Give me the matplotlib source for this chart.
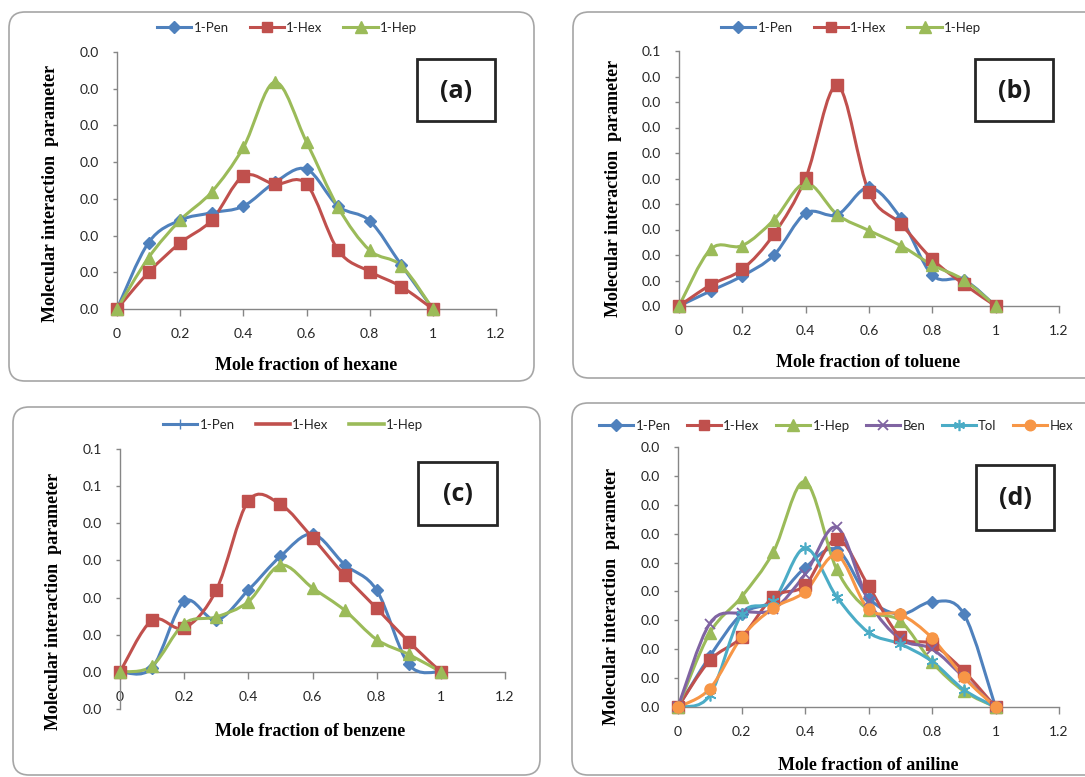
import numpy as np
import matplotlib
matplotlib.use('Agg')
import matplotlib.pyplot as plt
from matplotlib.path import Path
from matplotlib.patches import PathPatch, FancyBboxPatch, Rectangle
from matplotlib.lines import Line2D

W, H = 1085, 777

# ---------------- data (y values in axis tick steps) ----------------
x_frac = [0, 0.1, 0.2, 0.3, 0.4, 0.5, 0.6, 0.7, 0.8, 0.9, 1.0]
x_ticks = [0, 0.2, 0.4, 0.6, 0.8, 1.0, 1.2]
x_ticklabels = ['0', '0.2', '0.4', '0.6', '0.8', '1', '1.2']

# (a) hexane
a_pen = [0, 1.81, 2.42, 2.62, 2.80, 3.45, 3.81, 2.80, 2.40, 1.20, 0]
a_hex = [0, 1.00, 1.80, 2.42, 3.62, 3.40, 3.40, 1.60, 1.02, 0.61, 0]
a_hep = [0, 1.40, 2.42, 3.19, 4.40, 6.18, 4.55, 2.77, 1.60, 1.18, 0]
a_yticks = [0, 1, 2, 3, 4, 5, 6, 7]
a_yticklabels = ['0.0', '0.0', '0.0', '0.0', '0.0', '0.0', '0.0', '0.0']

# (b) toluene
b_pen = [0, 0.59, 1.18, 2.00, 3.64, 3.58, 4.65, 3.45, 1.21, 1.02, 0]
b_hex = [0, 0.83, 1.44, 2.82, 5.02, 8.65, 4.46, 3.22, 1.83, 0.85, 0]
b_hep = [0, 2.23, 2.37, 3.38, 4.82, 3.58, 2.96, 2.37, 1.61, 1.02, 0]
b_yticks = [0, 1, 2, 3, 4, 5, 6, 7, 8, 9, 10]
b_yticklabels = ['0.0', '0.0', '0.0', '0.0', '0.0', '0.0', '0.0', '0.0',
                 '0.0', '0.0', '0.1']

# (c) benzene
c_pen = [0, 0.11, 1.90, 1.39, 2.20, 3.11, 3.71, 2.89, 2.20, 0.20, 0]
c_hex = [0, 1.39, 1.18, 2.20, 4.60, 4.51, 3.61, 2.60, 1.71, 0.81, 0]
c_hep = [0, 0.16, 1.30, 1.48, 1.89, 2.87, 2.26, 1.66, 0.87, 0.47, 0]
c_yticks = [-1, 0, 1, 2, 3, 4, 5, 6]
c_yticklabels = ['0.0', '0.0', '0.0', '0.0', '0.0', '0.0', '0.1', '0.1']

# (d) aniline
d_pen = [0, 1.75, 3.21, 3.67, 4.82, 5.45, 3.78, 3.21, 3.64, 3.23, 0]
d_hex = [0, 1.61, 2.41, 3.81, 4.21, 5.81, 4.19, 2.43, 2.18, 1.24, 0]
d_hep = [0, 2.56, 3.81, 5.36, 7.80, 4.76, 3.35, 2.98, 1.55, 0.55, 0]
d_ben = [0, 2.89, 3.27, 3.38, 4.59, 6.22, 3.67, 2.35, 2.01, 1.03, 0]
d_tol = [0, 0.40, 3.21, 3.67, 5.50, 3.81, 2.58, 2.18, 1.58, 0.60, 0]
d_hexane = [0, 0.63, 2.41, 3.42, 3.99, 5.25, 3.38, 3.21, 2.39, 1.03, 0]
d_yticks = [0, 1, 2, 3, 4, 5, 6, 7, 8, 9]
d_yticklabels = ['0.0'] * 10

# ---------------- styles ----------------
BLUE, RED, GREEN = '#4F81BD', '#C0504D', '#9BBB59'
PURPLE, CYAN, ORANGE = '#8064A2', '#4BACC6', '#F79646'
STAR = (6, 2, 0)

sty_pen = dict(color=BLUE, marker='D', ms=6)
sty_hex = dict(color=RED, marker='s', ms=8)
sty_hep = dict(color=GREEN, marker='^', ms=8.5)
sty_ben = dict(color=PURPLE, marker='x', ms=7.5, mew=1.3)
sty_tol = dict(color=CYAN, marker=STAR, ms=8.5, mew=1.2)
sty_hexane = dict(color=ORANGE, marker='o', ms=8)

TICK_FONT = 'Lato'
LABEL_FONT = 'Liberation Serif'
GRAY = '#868686'
TXT = '#262626'


def smooth_path(xs, ys, t=1.0 / 6.0):
    pts = np.column_stack([xs, ys]).astype(float)
    n = len(pts)
    verts = [pts[0]]
    codes = [Path.MOVETO]
    for i in range(n - 1):
        p0 = pts[i - 1] if i > 0 else pts[i]
        p1 = pts[i]
        p2 = pts[i + 1]
        p3 = pts[i + 2] if i + 2 < n else pts[i + 1]
        c1 = p1 + (p2 - p0) * t
        c2 = p2 - (p3 - p1) * t
        verts += [c1, c2, p2]
        codes += [Path.CURVE4] * 3
    return Path(verts, codes)


def px_axes(fig, left, right, top, bottom):
    return fig.add_axes([left / W, 1 - bottom / H, (right - left) / W,
                         (bottom - top) / H])


fig = plt.figure(figsize=(W / 100, H / 100), dpi=100)
fig.patch.set_facecolor('white')

# background overlay for frames (pixel coordinates)
bg = fig.add_axes([0, 0, 1, 1], zorder=-5)
bg.set_xlim(0, W)
bg.set_ylim(H, 0)
bg.axis('off')
frames = [(9, 12, 534, 381), (573, 12, 1100, 378),
          (13, 407, 540, 775), (572, 403, 1100, 775)]
for (x0, y0, x1, y1) in frames:
    bg.add_patch(FancyBboxPatch((x0, y0), x1 - x0, y1 - y0,
                                boxstyle='round,pad=0,rounding_size=16',
                                fc='white', ec='#A6A6A6', lw=1.2))

panels = [
    dict(box=(117, 496, 52, 309), ylim=(0, 7), yt=a_yticks, ytl=a_yticklabels,
         series=[(a_pen, sty_pen, '1-Pen'), (a_hex, sty_hex, '1-Hex'),
                 (a_hep, sty_hep, '1-Hep')],
         xlabel='Mole fraction of hexane', xl=(306, 366), yl=(51, 193),
         leg=(287, 28), tag='(a)', tagbox=(417, 59, 495, 121), style='a'),
    dict(box=(679, 1059, 51, 306), ylim=(0, 10), yt=b_yticks, ytl=b_yticklabels,
         series=[(b_pen, sty_pen, '1-Pen'), (b_hex, sty_hex, '1-Hex'),
                 (b_hep, sty_hep, '1-Hep')],
         xlabel='Mole fraction of toluene', xl=(868, 363), yl=(613, 188),
         leg=(851, 28), tag='(b)', tagbox=(975, 59, 1053, 121), style='a'),
    dict(box=(120, 505, 449, 709), ylim=(-1, 6), yt=c_yticks, ytl=c_yticklabels,
         series=[(c_pen, sty_pen, '1-Pen'), (c_hex, sty_hex, '1-Hex'),
                 (c_hep, sty_hep, '1-Hep')],
         xlabel='Mole fraction of benzene', xl=(310, 732), yl=(54, 601),
         leg=(293, 425), tag='(c)', tagbox=(418, 462, 497, 525), style='c'),
    dict(box=(678, 1059, 447, 707), ylim=(0, 9), yt=d_yticks, ytl=d_yticklabels,
         series=[(d_pen, sty_pen, '1-Pen'), (d_hex, sty_hex, '1-Hex'),
                 (d_hep, sty_hep, '1-Hep'), (d_ben, sty_ben, 'Ben'),
                 (d_tol, sty_tol, 'Tol'), (d_hexane, sty_hexane, 'Hex')],
         xlabel='Mole fraction of aniline', xl=(868, 766), yl=(612, 596),
         leg=(836, 426), tag='(d)', tagbox=(976, 465, 1054, 530), style='a'),
]

for p in panels:
    l, r, t, b = p['box']
    ax = px_axes(fig, l, r, t, b)
    ax.set_xlim(0, 1.2)
    ax.set_ylim(*p['ylim'])
    ax.patch.set_alpha(0)
    for s in ('top', 'right'):
        ax.spines[s].set_visible(False)
    for s in ('left', 'bottom'):
        ax.spines[s].set_color(GRAY)
        ax.spines[s].set_linewidth(1.0)
    if p['style'] == 'c':
        ax.spines['bottom'].set_position(('data', 0))
    ax.set_xticks(x_ticks)
    ax.set_xticklabels(x_ticklabels)
    ax.set_yticks(p['yt'])
    ax.set_yticklabels(p['ytl'])
    ax.tick_params(axis='x', direction='out', length=5, width=1, color=GRAY,
                   pad=9, labelsize=10, labelcolor=TXT)
    ax.tick_params(axis='y', direction='out', length=3, width=1, color=GRAY,
                   pad=10, labelsize=10, labelcolor=TXT)
    for lab in ax.get_xticklabels() + ax.get_yticklabels():
        lab.set_fontfamily(TICK_FONT)

    handles = []
    for ys, sty, name in p['series']:
        path = smooth_path(x_frac, ys)
        ax.add_patch(PathPatch(path, fc='none', ec=sty['color'], lw=2.2,
                               capstyle='round', joinstyle='round', zorder=3))
        ax.plot(x_frac, ys, linestyle='none', marker=sty['marker'],
                ms=sty['ms'], mfc=sty['color'], mec=sty['color'],
                mew=sty.get('mew', 1.0), zorder=4, clip_on=False)
        if p['style'] == 'c':
            if name == '1-Pen':
                h = Line2D([], [], color=sty['color'], lw=2.2, marker='|',
                           ms=7, mew=1.0)
            else:
                h = Line2D([], [], color=sty['color'], lw=2.6)
        else:
            h = Line2D([], [], color=sty['color'], lw=2.2, marker=sty['marker'],
                       ms=sty['ms'] * 0.95, mfc=sty['color'], mec=sty['color'],
                       mew=sty.get('mew', 1.0))
        handles.append((h, name))

    ncol = len(handles)
    leg = fig.legend([h for h, _ in handles], [n for _, n in handles],
                     loc='center', bbox_to_anchor=(p['leg'][0] / W, 1 - p['leg'][1] / H),
                     ncol=ncol, frameon=False, handlelength=2.6,
                     handletextpad=0.15, columnspacing=1.6 if ncol == 3 else 1.25,
                     prop={'family': TICK_FONT, 'size': 9.5})
    for txt in leg.get_texts():
        txt.set_color(TXT)

    fig.text(p['xl'][0] / W, 1 - p['xl'][1] / H, p['xlabel'],
             ha='center', va='center', family=LABEL_FONT, weight='bold',
             size=13, color='black')
    fig.text(p['yl'][0] / W, 1 - p['yl'][1] / H, 'Molecular interaction  parameter',
             ha='center', va='center', rotation=90, family=LABEL_FONT,
             weight='bold', size=13, color='black')

    x0, y0, x1, y1 = p['tagbox']
    bg.add_patch(Rectangle((x0, y0), x1 - x0, y1 - y0, fc='white',
                           ec='#262626', lw=2.0, zorder=2))
    bg.text((x0 + x1) / 2, (y0 + y1) / 2 + 1, p['tag'], ha='center',
            va='center', family='Open Sans', weight='bold', size=18,
            color='#1a1a1a', zorder=3)

fig.savefig('out.png', dpi=100, facecolor='white')
